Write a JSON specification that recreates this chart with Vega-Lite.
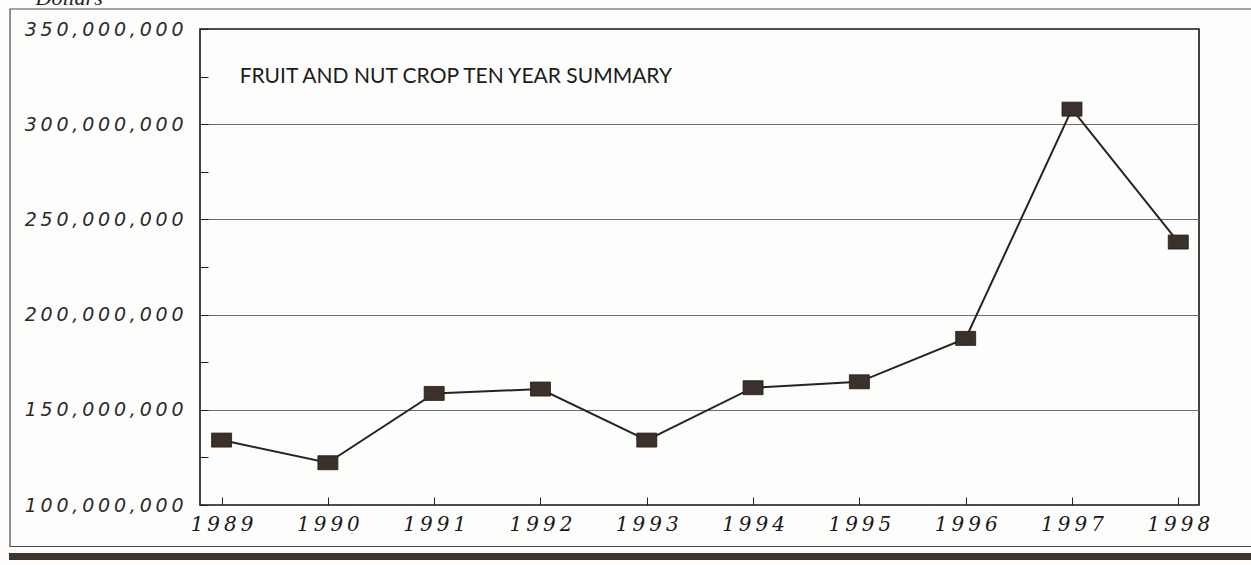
{
  "$schema": "https://vega.github.io/schema/vega-lite/v6.json",
  "autosize": {"type": "none"},
  "width": 999,
  "height": 476,
  "padding": {"left": 200, "top": 29, "right": 52, "bottom": 60},
  "background": "#fdfdfc",
  "config": {
    "view": {"stroke": "#151515", "strokeWidth": 1.6},
    "axis": {"domain": false}
  },
  "data": {
    "values": [
      {"year": 1989, "value": 134100000},
      {"year": 1990, "value": 122200000},
      {"year": 1991, "value": 158600000},
      {"year": 1992, "value": 160900000},
      {"year": 1993, "value": 134100000},
      {"year": 1994, "value": 161600000},
      {"year": 1995, "value": 164700000},
      {"year": 1996, "value": 187500000},
      {"year": 1997, "value": 307900000},
      {"year": 1998, "value": 238100000}
    ]
  },
  "encoding": {
    "x": {
      "type": "quantitative",
      "scale": {"domain": [1988.797, 1998.195], "nice": false, "zero": false},
      "axis": {
        "title": null,
        "values": [1989, 1990, 1991, 1992, 1993, 1994, 1995, 1996, 1997, 1998],
        "labelExpr": "join(split(format(datum.value, 'd'), ''), '\u2009')",
        "labelFont": "DejaVu Serif",
        "labelFontStyle": "italic",
        "labelFontSize": 20,
        "labelColor": "#1a1a1a",
        "labelPadding": 17,
        "tickSize": -8,
        "tickColor": "#222",
        "tickWidth": 1,
        "grid": false
      }
    },
    "y": {
      "type": "quantitative",
      "scale": {"domain": [100000000, 350000000], "nice": false, "zero": false},
      "axis": {
        "title": "Dollars",
        "titleAngle": 0,
        "titleAlign": "left",
        "titleBaseline": "alphabetic",
        "titleX": -165,
        "titleY": -25,
        "titleFont": "Liberation Serif",
        "titleFontStyle": "italic",
        "titleFontWeight": "normal",
        "titleFontSize": 22,
        "titleColor": "#222",
        "values": [100000000, 125000000, 150000000, 175000000, 200000000, 225000000, 250000000, 275000000, 300000000, 325000000, 350000000],
        "labelExpr": "datum.value % 50000000 === 0 ? join(split(format(datum.value, ','), ''), '\u2009') : ''",
        "labelFont": "DejaVu Sans",
        "labelFontStyle": "italic",
        "labelFontSize": 19,
        "labelColor": "#2a2a2a",
        "labelPadding": 25,
        "tickSize": -8,
        "tickColor": "#222",
        "tickWidth": 1,
        "grid": true,
        "gridColor": "#6e6e6e",
        "gridWidth": 1,
        "gridOpacity": {"condition": {"test": "datum.value % 50000000 !== 0 || datum.value === 100000000 || datum.value === 350000000", "value": 0}, "value": 1}
      }
    }
  },
  "layer": [
    {
      "data": {"values": [{}]},
      "mark": {"type": "rect", "fill": null, "stroke": "#4a4a4a", "strokeWidth": 1.2, "clip": false},
      "encoding": {
        "x": {"datum": 1987.01, "type": "quantitative"},
        "x2": {"datum": 1998.8},
        "y": {"datum": 360500000, "type": "quantitative"},
        "y2": {"datum": 78200000}
      }
    },
    {
      "data": {"values": [{}]},
      "mark": {"type": "rect", "fill": "#3f342d", "clip": false},
      "encoding": {
        "x": {"datum": 1987.0, "type": "quantitative"},
        "x2": {"datum": 1998.8},
        "y": {"datum": 74800000, "type": "quantitative"},
        "y2": {"datum": 71100000}
      }
    },
    {
      "data": {"values": [{}]},
      "mark": {"type": "text", "align": "left", "baseline": "middle", "font": "Lato", "fontSize": 21, "color": "#1c1c1c"},
      "encoding": {
        "x": {"datum": 1989.17, "type": "quantitative"},
        "y": {"datum": 324800000, "type": "quantitative"},
        "text": {"value": "FRUIT AND NUT CROP TEN YEAR SUMMARY"}
      }
    },
    {
      "mark": {"type": "line", "color": "#262321", "strokeWidth": 2},
      "encoding": {
        "x": {"field": "year", "type": "quantitative"},
        "y": {"field": "value", "type": "quantitative"}
      }
    },
    {
      "mark": {
        "type": "point",
        "shape": "M-1,-0.7L1,-0.7L1,0.7L-1,0.7Z",
        "size": 400,
        "filled": true,
        "fill": "#3b302a",
        "stroke": "#1e1a18",
        "strokeWidth": 0.8,
        "opacity": 1
      },
      "encoding": {
        "x": {"field": "year", "type": "quantitative"},
        "y": {"field": "value", "type": "quantitative"}
      }
    }
  ]
}
